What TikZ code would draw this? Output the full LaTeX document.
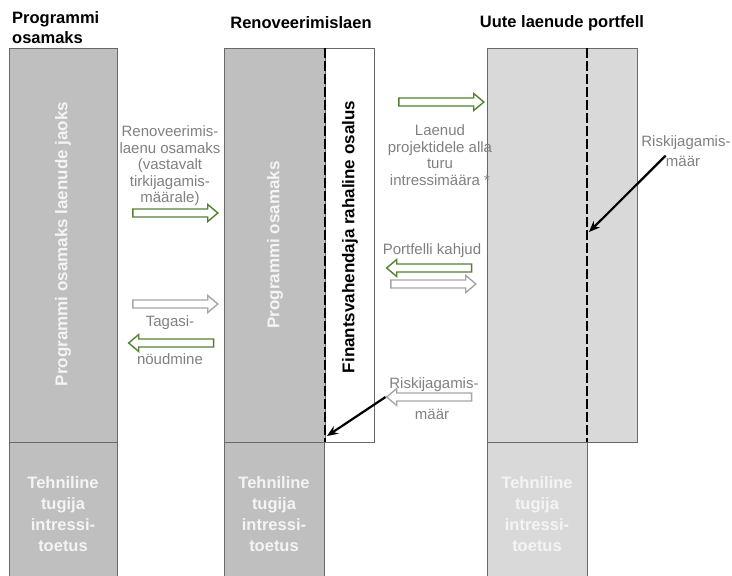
\documentclass[tikz,border=0pt]{standalone}
\usepackage{fontspec}
\setmainfont{Liberation Sans}
\usetikzlibrary{shapes.arrows,arrows.meta}

\definecolor{boxgray}{RGB}{191,191,191}
\definecolor{lightbox}{RGB}{217,217,217}
\definecolor{edgegray}{RGB}{105,105,105}
\definecolor{labelgray}{RGB}{128,128,128}
\definecolor{arrowgray}{RGB}{166,166,166}
\definecolor{flowgreen}{RGB}{84,130,53}
\definecolor{softwhite}{RGB}{244,244,244}

\tikzset{
  coltitle/.style={font=\fontsize{16.5}{20}\selectfont\bfseries, text=black, inner sep=0pt},
  coltext/.style={font=\fontsize{17}{20}\selectfont\bfseries, rotate=90, inner sep=0pt},
  basetext/.style={font=\fontsize{16.5}{21}\selectfont\bfseries, text=softwhite, align=center, inner sep=0pt},
  flowtext/.style={font=\fontsize{15}{16.5}\selectfont, text=labelgray, align=center, inner sep=0pt},
  hollow/.style={single arrow, draw, fill=white, line width=1.4pt, minimum height=85pt,
    text height=3.3pt, text depth=3.3pt, single arrow head extend=4.5pt,
    single arrow tip angle=80, inner sep=0pt},
  greenflow/.style={hollow, draw=flowgreen},
  grayflow/.style={hollow, draw=arrowgray},
  leftward/.style={shape border rotate=180},
  riskline/.style={line width=2.2pt, -{Stealth[length=11pt,width=9pt]}},
  sharedash/.style={line width=2.8pt, dash pattern=on 10pt off 3pt},
}

\begin{document}
\begin{tikzpicture}[x=1pt, y=-1pt]
        \useasboundingbox (0, 0) rectangle (732, 576);

        % Draw columns
        \filldraw[fill=boxgray, draw=edgegray] (9, 48) rectangle (117, 442);
        \filldraw[fill=boxgray, draw=edgegray] (9, 442) rectangle (117, 590);
        \filldraw[fill=boxgray, draw=edgegray] (224, 48) rectangle (325, 442);
        \filldraw[fill=white, draw=edgegray] (325, 48) rectangle (374, 442);
        \filldraw[fill=boxgray, draw=edgegray] (224, 442) rectangle (324, 590);
        \filldraw[fill=lightbox, draw=edgegray] (487, 48) rectangle (637, 442);
        \filldraw[fill=lightbox, draw=edgegray] (487, 442) rectangle (587, 590);

        % Draw risk sharing borders
        \draw[sharedash] (325, 48) -- (325, 442);
        \draw[sharedash] (587, 48) -- (587, 442);
        \coordinate (dashmid) at (327, 436);
        \coordinate (dashright) at (589, 232);

        % Titles
        \node[coltitle, anchor=west, align=left] (titleprog) at (12, 28) {Programmi\\osamaks};
        \node[coltitle] (titlerenov) at (301, 23) {Renoveerimislaen};
        \node[coltitle] (titleport) at (562, 23) {Uute laenude portfell};

        % Column texts
        \node[coltext, text=softwhite] (progshare) at (63, 244) {Programmi osamaks laenude jaoks};
        \node[coltext, text=softwhite] (renovprog) at (275, 245) {Programmi osamaks};
        \node[coltext, text=black] (finshare) at (350, 237) {Finantsvahendaja rahaline osalus};
        \node[basetext] (techprog) at (63, 514) {Tehniline\\tugija\\intressi-\\toetus};
        \node[basetext] (techrenov) at (274, 514) {Tehniline\\tugija\\intressi-\\toetus};
        \node[basetext] (techport) at (537, 514) {Tehniline\\tugija\\intressi-\\toetus};

        % Flows between programme and loan
        \node[flowtext] (renovshare) at (170, 166) {Renoveerimis-\\laenu osamaks\\(vastavalt\\tirkijagamis-\\määrale)};
        \node[greenflow] (payin) at (173, 213) {};
        \node[grayflow] (claimout) at (173, 304) {};
        \node[flowtext] (claimtop) at (170, 323) {Tagasi-};
        \node[greenflow, leftward] (claimback) at (173.5, 343) {};
        \node[flowtext] (claimbot) at (170, 359) {nöudmine};

        % Flows between loan and portfolio
        \node[greenflow] (lendout) at (439, 102) {};
        \node[flowtext] (lendtext) at (440, 155) {Laenud\\projektidele alla\\turu\\intressimäära *};
        \node[flowtext] (losstext) at (432, 251) {Portfelli kahjud};
        \node[greenflow, leftward] (lossback) at (431.5, 268) {};
        \node[grayflow] (lossout) at (431, 284) {};
        \node[flowtext] (risktop) at (434, 385) {Riskijagamis-};
        \node[grayflow, leftward] (riskback) at (431.5, 397) {};
        \node[flowtext] (riskbot) at (432, 414) {määr};
        \node[flowtext] (rightrisk) at (686, 143) {Riskijagamis-};
        \node[flowtext] (rightmaar) at (683, 161) {määr};

        % Risk sharing pointers
        \draw[riskline] (riskback.tip) -- (dashmid);
        \draw[riskline] (rightmaar.north west) -- (dashright);
\end{tikzpicture}
\end{document}
